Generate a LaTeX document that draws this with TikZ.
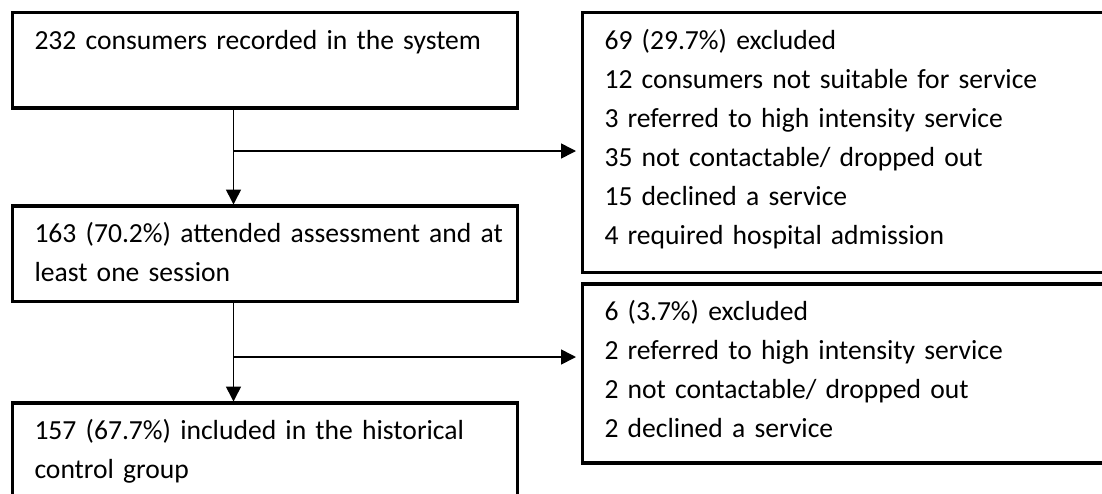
\documentclass[tikz,border=0pt]{standalone}
\usepackage{fontspec}
\setmainfont{Carlito}
\usepackage{tikz}
\usetikzlibrary{arrows.meta, positioning, calc}
\tikzset{
>={Triangle[length=7.5pt,width=7.5pt]},
box/.style={%
    rectangle,
    draw=black,
    line width=1.6pt,
    outer sep=0pt,
    inner xsep=11pt,
    inner ysep=0pt,
    anchor=north west,
    align=left,
    text height=18.25pt,
    % Font
    font={\fontsize{13.8}{19.5}\selectfont}
},
leftbox/.style={box, text width=230.5pt, text depth=29.5pt},
rightbox/.style={box, text width=258pt},
flow/.style={->, line width=0.8pt, black},
}

\begin{document}
\begin{tikzpicture}[x=0.5pt,y=-0.5pt]
			\clip (0,0) rectangle (1102,493);
			\node[leftbox] (recorded) at (12.5,12.5) {232 consumers recorded in the system};
			\node[leftbox] (attended) at (12.5,206) {\mbox{163 (70.2\%) attended assessment and at}\\least one session};
			\node[leftbox] (included) at (12.5,403) {157 (67.7\%) included in the historical\\control group};
			\node[rightbox, text depth=111.75pt] (excl1) at (582.5,12.5) {69 (29.7\%) excluded\\12 consumers not suitable for service\\3 referred to high intensity service\\35 not contactable/ dropped out\\15 declined a service\\4 required hospital admission};
			\node[rightbox, text depth=71.25pt] (excl2) at (582.5,284) {6 (3.7\%) excluded\\2 referred to high intensity service\\2 not contactable/ dropped out\\2 declined a service};
			\coordinate (split1) at (233.5,151);
			\coordinate (split2) at (233.5,357);

			\draw[flow, shorten >=0.75pt] (split1 |- recorded.south) -- (split1 |- attended.north);
			\draw[flow, shorten >=3.25pt] (split1) -- (split1 -| excl1.west);
			\draw[flow, shorten >=0.75pt] (split2 |- attended.south) -- (split2 |- included.north);
			\draw[flow, shorten >=3.25pt] (split2) -- (split2 -| excl2.west);
		\end{tikzpicture}
\end{document}
